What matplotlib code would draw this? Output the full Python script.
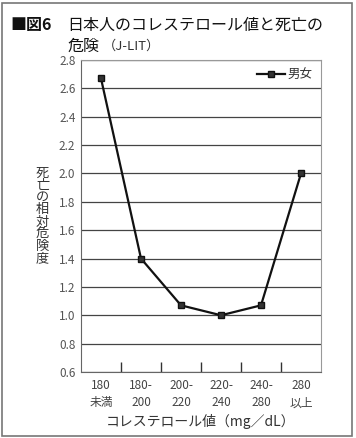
import numpy as np
import matplotlib
matplotlib.use("Agg")
import matplotlib.pyplot as plt
from matplotlib.patches import Rectangle

plt.rcParams['font.family'] = ['Noto Sans CJK JP', 'DejaVu Sans']

# データ
categories = ["180\n未満", "180-\n200", "200-\n220", "220-\n240", "240-\n280", "280\n以上"]
risk = [2.67, 1.40, 1.07, 1.00, 1.07, 2.00]
series_name = "男女"
yticks = [0.6, 0.8, 1.0, 1.2, 1.4, 1.6, 1.8, 2.0, 2.2, 2.4, 2.6, 2.8]

fig = plt.figure(figsize=(3.56, 4.38), dpi=100)

# 外枠
fig.patches.append(Rectangle((0.006, 0.004), 0.983, 0.99, transform=fig.transFigure,
                             fill=False, edgecolor='#777777', linewidth=1.2))

ax = fig.add_axes([81/356, 1 - 372/438, 240/356, 312/438])

x = np.arange(len(categories))
ax.plot(x, risk, color='#111111', linewidth=1.6, marker='s', markersize=3.8,
        markerfacecolor='#333333', markeredgecolor='#111111', label=series_name)

ax.set_xlim(-0.5, len(categories) - 0.5)
ax.set_ylim(0.6, 2.8)
ax.set_yticks(yticks)
ax.set_yticklabels([f"{v:.1f}" for v in yticks], color='#555555', fontsize=8.5)
ax.yaxis.grid(True, color='#444444', linewidth=0.9)
ax.set_axisbelow(True)
ax.tick_params(axis='y', length=0, pad=4)

# x軸: 区切りに内向き目盛り
ax.set_xticks(x)
ax.set_xticklabels(categories, color='#444444', fontsize=8.5, linespacing=1.45)
ax.tick_params(axis='x', which='major', length=0, pad=5)
ax.set_xticks(np.arange(0.5, len(categories) - 0.5), minor=True)
ax.tick_params(axis='x', which='minor', direction='in', length=7, color='#333333', width=1)

for s in ['top', 'right']:
    ax.spines[s].set_color('#999999')
for s in ['left', 'bottom']:
    ax.spines[s].set_color('#666666')

ax.set_xlabel("コレステロール値（mg／dL）", fontsize=10, color='#333333', labelpad=3)

# 縦書きのラベル
ax.text(-0.16, 0.5, "\n".join("死亡の相対危険度"), transform=ax.transAxes,
        ha='center', va='center', fontsize=9.5, color='#333333', linespacing=0.92)

leg = ax.legend(loc='upper right', frameon=False, fontsize=9, handlelength=2.2,
                handletextpad=0.2, borderaxespad=0.3)
for t in leg.get_texts():
    t.set_color('#333333')

# タイトル
fig.text(0.03, 0.932, "■図6", fontsize=11.5, fontweight='bold', color='#111111')
fig.text(0.19, 0.932, "日本人のコレステロール値と死亡の", fontsize=11.5, color='#111111')
fig.text(0.19, 0.885, "危険", fontsize=11.5, color='#111111')
fig.text(0.29, 0.886, "（J-LIT）", fontsize=9.5, color='#333333')

fig.savefig("out.png", dpi=100)
